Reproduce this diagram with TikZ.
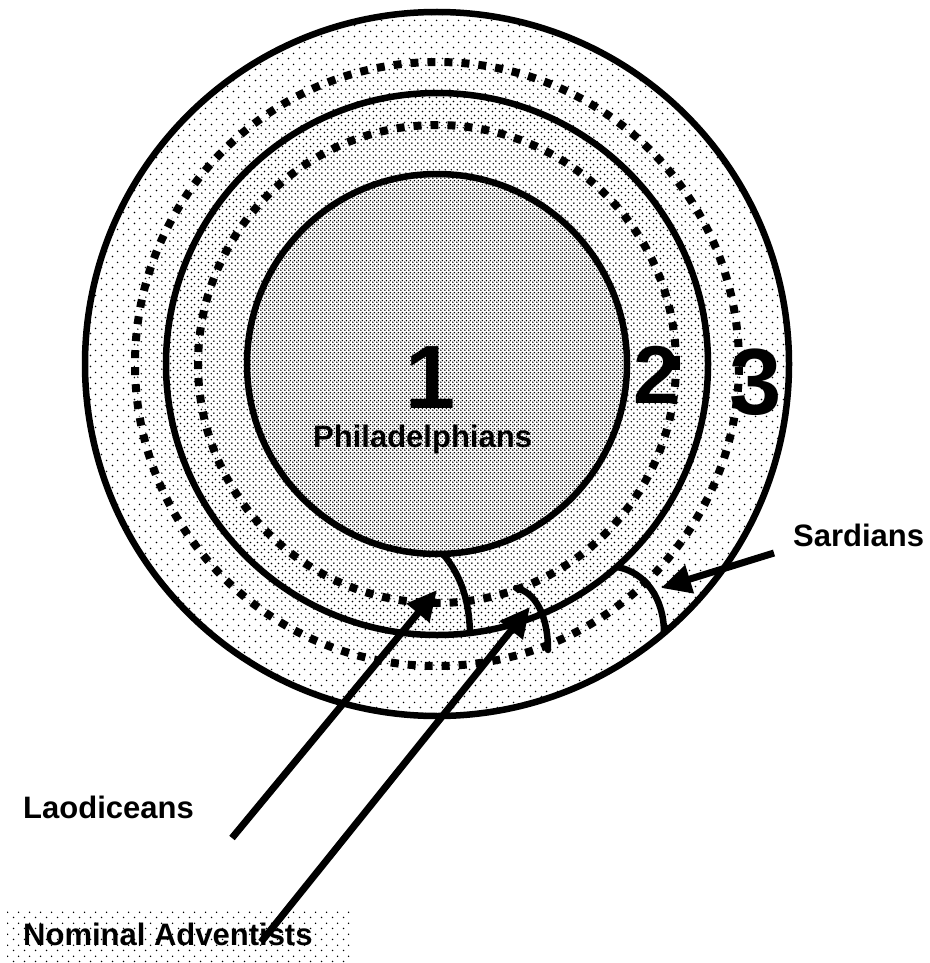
\documentclass[tikz,border=0pt]{standalone}
\usepackage{fontspec}
\setmainfont{Liberation Sans}
\usetikzlibrary{arrows.meta,patterns}

% staggered dot screens, from sparse to dense
\pgfdeclarepatternformonly{dotsXL}{\pgfqpoint{0pt}{0pt}}{\pgfqpoint{11pt}{11pt}}{\pgfqpoint{11pt}{11pt}}{%
  \pgfpathcircle{\pgfqpoint{2.75pt}{2.75pt}}{0.9pt}%
  \pgfpathcircle{\pgfqpoint{8.25pt}{8.25pt}}{0.9pt}%
  \pgfusepath{fill}}
\pgfdeclarepatternformonly{dotsL}{\pgfqpoint{0pt}{0pt}}{\pgfqpoint{8pt}{8pt}}{\pgfqpoint{8pt}{8pt}}{%
  \pgfpathcircle{\pgfqpoint{2pt}{2pt}}{0.85pt}%
  \pgfpathcircle{\pgfqpoint{6pt}{6pt}}{0.85pt}%
  \pgfusepath{fill}}
\pgfdeclarepatternformonly{dotsM}{\pgfqpoint{0pt}{0pt}}{\pgfqpoint{6.5pt}{6.5pt}}{\pgfqpoint{6.5pt}{6.5pt}}{%
  \pgfpathcircle{\pgfqpoint{1.625pt}{1.625pt}}{0.9pt}%
  \pgfpathcircle{\pgfqpoint{4.875pt}{4.875pt}}{0.9pt}%
  \pgfusepath{fill}}
\pgfdeclarepatternformonly{dotsS}{\pgfqpoint{0pt}{0pt}}{\pgfqpoint{6pt}{6pt}}{\pgfqpoint{6pt}{6pt}}{%
  \pgfpathcircle{\pgfqpoint{1.5pt}{1.5pt}}{0.9pt}%
  \pgfpathcircle{\pgfqpoint{4.5pt}{4.5pt}}{0.9pt}%
  \pgfusepath{fill}}
\pgfdeclarepatternformonly{dotsXS}{\pgfqpoint{0pt}{0pt}}{\pgfqpoint{4pt}{4pt}}{\pgfqpoint{4pt}{4pt}}{%
  \pgfpathcircle{\pgfqpoint{1pt}{1pt}}{0.98pt}%
  \pgfpathcircle{\pgfqpoint{3pt}{3pt}}{0.98pt}%
  \pgfusepath{fill}}

\begin{document}
\begin{tikzpicture}[x=1pt,y=1pt,
  band/.style={preaction={fill=white}, pattern=#1},
  ring/.style={draw=black, line width=6.5pt},
  dotring/.style={draw=black, line width=8pt, dash pattern=on 8pt off 9pt},
  arr/.style={draw=black, line width=7pt, -{Triangle[length=30pt,width=28pt]}},
  lbl/.style={inner sep=0pt, font=\fontsize{31}{36}\selectfont\bfseries},
  num/.style={inner sep=0pt, anchor=base}]
\useasboundingbox (0,0) rectangle (929,-963);
\fill[white] (0,0) rectangle (929,-963);

\coordinate (c) at (437,-364);

% shaded bands, outermost first
\path[band=dotsXL] (c) circle[radius=352];
\path[band=dotsL]  (c) circle[radius=302];
\path[band=dotsM]  (c) circle[radius=271];
\path[band=dotsS]  (c) circle[radius=239];
\path[band=dotsXS] (c) circle[radius=190];

% boundaries
\draw[dotring] (c) circle[radius=302];
\draw[dotring] (c) circle[radius=239];
\draw[ring] (c) circle[radius=352];
\draw[ring] (c) circle[radius=271];
\draw[ring] (c) circle[radius=190];

% dividing arcs
\draw[ring] (443,-554) .. controls (458,-572) and (469,-595) .. (470,-633);
\draw[ring, line cap=round] (516,-588) .. controls (535,-592) and (548,-615) .. (548,-650);
\draw[ring] (617,-567) .. controls (645,-572) and (664,-598) .. (664,-633);

% label box
\path[pattern=dotsXL] (7,-908) rectangle (350,-962);

% numbers
\node[num, font=\fontsize{90}{90}\selectfont\bfseries] (one) at (431,-408) {1};
\node[num, font=\fontsize{82}{82}\selectfont\bfseries] (two) at (656,-403) {2};
\node[num, font=\fontsize{94}{94}\selectfont\bfseries] (three) at (756,-414) {3};

% labels
\node[lbl, anchor=base west] (phil) at (313,-447) {Philadelphians};
\node[lbl, anchor=base west] (sard) at (793,-546) {Sardians};
\node[lbl, anchor=base west] (laod) at (23,-818) {Laodiceans};
\node[lbl, anchor=base west] (nomi) at (23,-945) {Nominal Adventists};

% pointers
\coordinate (laoTail) at (232,-838);
\coordinate (laoTip) at (437,-590);
\coordinate (nomTail) at (261,-942);
\coordinate (nomTip) at (530,-607);
\coordinate (sarTail) at (774,-553);
\coordinate (sarTip) at (661,-588);
\draw[arr] (laoTail) -- (laoTip);
\draw[arr] (nomTail) -- (nomTip);
\draw[arr] (sarTail) -- (sarTip);
\end{tikzpicture}
\end{document}
